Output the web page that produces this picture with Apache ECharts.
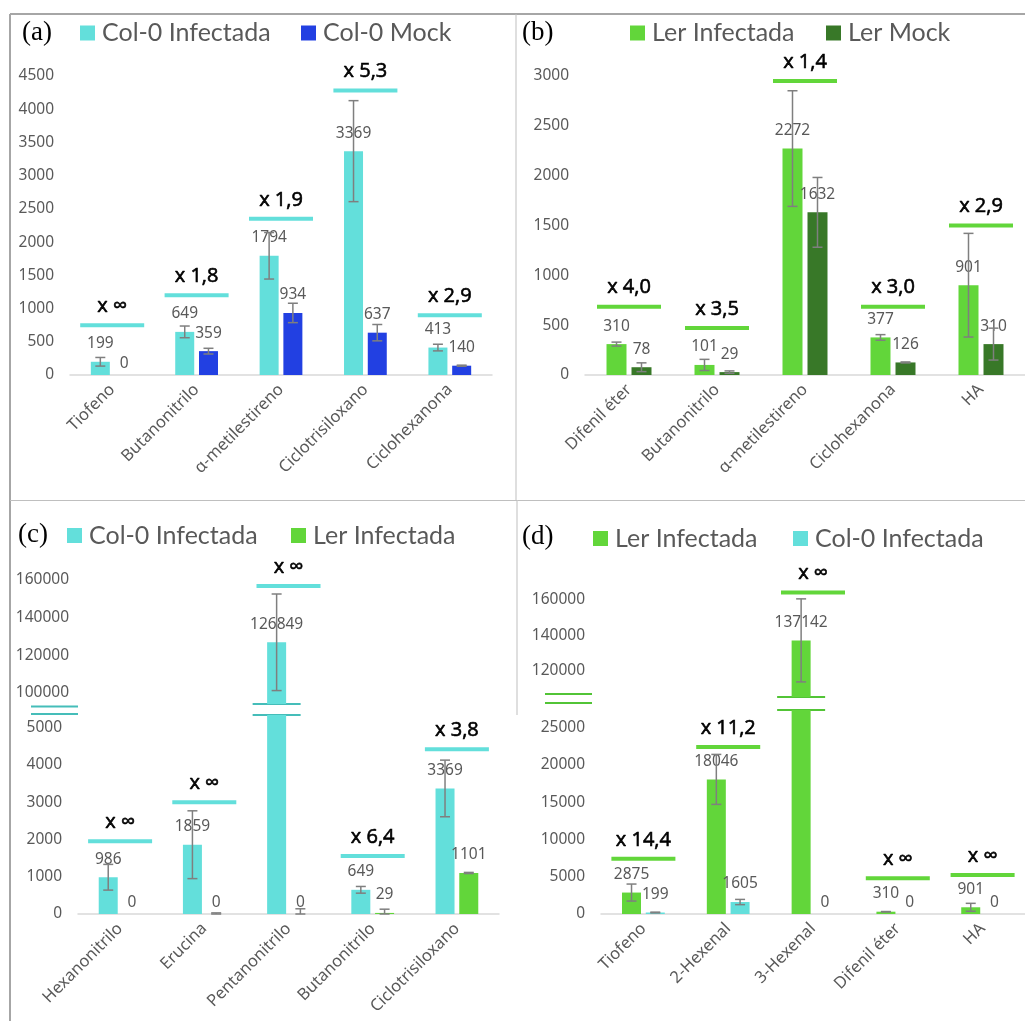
<!DOCTYPE html>
<html>
<head>
<meta charset="utf-8">
<title>VOCs Col-0 / Ler</title>
<script src="https://cdn.jsdelivr.net/npm/echarts@6.0.0/dist/echarts.min.js"></script>
<style>
  html, body { margin: 0; padding: 0; background: #fff; }
  #main { width: 1025px; height: 1021px; }
</style>
</head>
<body>
<div id="main"></div>
<script>
// (a) Col-0 infectada vs mock
const catA = ['Tiofeno', 'Butanonitrilo', 'α-metilestireno', 'Ciclotrisiloxano', 'Ciclohexanona']
const colInfA = [199, 649, 1794, 3369, 413]
const colInfAErr = [65, 88, 350, 760, 50]
const colMockA = [0, 359, 934, 637, 140]
const colMockAErr = [0, 43, 146, 123, 8]
const foldA = ['x ∞', 'x 1,8', 'x 1,9', 'x 5,3', 'x 2,9']
const foldAY = [750, 1200, 2350, 4280, 900]

// (b) Ler infectada vs mock
const catB = ['Difenil éter', 'Butanonitrilo', 'α-metilestireno', 'Ciclohexanona', 'HA']
const lerInfB = [310, 101, 2272, 377, 901]
const lerInfBErr = [20, 56, 580, 28, 520]
const lerMockB = [78, 29, 1632, 126, 310]
const lerMockBErr = [44, 12, 350, 5, 160]
const foldB = ['x 4,0', 'x 3,5', 'x 1,4', 'x 3,0', 'x 2,9']
const foldBY = [685, 472, 2950, 685, 1500]

// (c) Col-0 infectada vs Ler infectada
const catC = ['Hexanonitrilo', 'Erucina', 'Pentanonitrilo', 'Butanonitrilo', 'Ciclotrisiloxano']
const colInfC = [986, 1859, 126849, 649, 3369]
const colInfCErr = [345, 910, 25700, 90, 760]
const lerInfC = [0, 0, 0, 29, 1101]
const lerInfCErr = [0, 30, 140, 100, 15]
const foldC = ['x ∞', 'x ∞', 'x ∞', 'x 6,4', 'x 3,8']
const foldCY = [1950, 3000, 156800, 1555, 4420]
const ticksCUp = [100000, 120000, 140000, 160000]
const ticksCLow = [0, 1000, 2000, 3000, 4000, 5000]

// (d) Ler infectada vs Col-0 infectada
const catD = ['Tiofeno', '2-Hexenal', '3-Hexenal', 'Difenil éter', 'HA']
const lerInfD = [2875, 18046, 137142, 310, 901]
const lerInfDErr = [1140, 3350, 23500, 20, 530]
const colInfD = [199, 1605, 0, 0, 0]
const colInfDErr = [50, 350, 0, 0, 0]
const foldD = ['x 14,4', 'x 11,2', 'x ∞', 'x ∞', 'x ∞']
const foldDY = [7400, 22400, 164300, 4800, 5230]
const ticksDUp = [120000, 140000, 160000]
const ticksDLow = [0, 5000, 10000, 15000, 20000, 25000]

const TXT = '#595959'
const ERR = '#7f7f7f'
const BORDER = '#a6a6a6'
const CYAN = '#63dfdb'
const BLUE = '#2240e2'
const GREEN = '#62d63a'
const DKGREEN = '#387828'
const FONT = '"Noto Sans", sans-serif'
const BW = 19

// grids: a, b, c-upper, c-lower, d-upper, d-lower
const grids = [
  { left: 70, top: 76, width: 422, height: 299 },
  { left: 585, top: 76, width: 440, height: 299 },
  { left: 78, top: 580, width: 421, height: 124 },
  { left: 78, top: 715, width: 421, height: 199 },
  { left: 601, top: 600, width: 424, height: 97 },
  { left: 601, top: 710, width: 424, height: 204 }
]
const ranges = [[0, 4500], [0, 3000], [94000, 160000], [0, 5340], [105100, 160000], [0, 27350]]
const cats = [catA, catB, catC, catC, catD, catD]

function lowOf (ai) { return ai === 2 || ai === 4 ? ranges[ai][0] : -Infinity }
function highOf (ai) { return ai === 3 || ai === 5 ? ranges[ai][1] : Infinity }

function barData (vals, lo, hi) {
  return vals.map(function (v) {
    if (v < lo) return '-'
    if (v > hi) return { value: v, label: { show: false } }
    return { value: v, label: { distance: v === 0 ? 3 : 10 } }
  })
}

function bars (name, ai, vals, color, bw) {
  return {
    name: name, type: 'bar', xAxisIndex: ai, yAxisIndex: ai,
    data: barData(vals, lowOf(ai), highOf(ai)),
    barWidth: bw, barGap: '25%', clip: true, silent: true,
    itemStyle: { color: color },
    label: { show: true, position: 'top', distance: 10, color: TXT, fontSize: 15.5, fontFamily: FONT }
  }
}

function errBars (ai, vals, errs, offset) {
  let lo = lowOf(ai)
  let hi = highOf(ai)
  return {
    type: 'custom', xAxisIndex: ai, yAxisIndex: ai, silent: true, z: 4,
    data: vals.map(function (v, i) { return [i, v, errs[i]] })
      .filter(function (d) { return d[2] > 0 && d[1] >= lo && d[1] <= hi }),
    renderItem: function (params, api) {
      let c = api.value(0)
      let v = api.value(1)
      let e = api.value(2)
      let top = api.coord([c, v + e])
      let bot = api.coord([c, Math.max(v - e, 0)])
      let x = top[0] + offset
      let st = { stroke: ERR, lineWidth: 1.5 }
      return {
        type: 'group',
        children: [
          { type: 'line', shape: { x1: x, y1: top[1], x2: x, y2: bot[1] }, style: st },
          { type: 'line', shape: { x1: x - 5, y1: top[1], x2: x + 5, y2: top[1] }, style: st },
          { type: 'line', shape: { x1: x - 5, y1: bot[1], x2: x + 5, y2: bot[1] }, style: st }
        ]
      }
    }
  }
}

function folds (ai, labels, ys, color) {
  let lo = lowOf(ai)
  let hi = highOf(ai)
  return {
    type: 'custom', xAxisIndex: ai, yAxisIndex: ai, silent: true, z: 6,
    data: ys.map(function (y, i) { return [i, y] })
      .filter(function (d) { return d[1] >= lo && d[1] <= hi }),
    renderItem: function (params, api) {
      let p = api.coord([api.value(0), api.value(1)])
      let w = 64
      return {
        type: 'group',
        children: [
          { type: 'rect', shape: { x: p[0] - w / 2, y: p[1] - 2, width: w, height: 4 }, style: { fill: color } },
          {
            type: 'text', x: p[0], y: p[1] - 19,
            style: {
              text: labels[api.value(0)], fill: '#000', stroke: '#000', lineWidth: 0.6,
              fontSize: 20, fontFamily: '"Open Sans"', align: 'center', verticalAlign: 'middle'
            }
          }
        ]
      }
    }
  }
}

function leg (name, left, top) {
  return {
    data: [name], left: left, top: top, padding: 0, itemWidth: 15, itemHeight: 15,
    icon: 'rect', selectedMode: false,
    textStyle: { color: TXT, fontSize: 25, fontFamily: 'Lato', padding: [0, 0, 0, 2] }
  }
}

const upper = [2, 4]
const xAxes = grids.map(function (g, i) {
  return {
    type: 'category', gridIndex: i, data: cats[i], show: upper.indexOf(i) < 0,
    axisLine: { show: true, lineStyle: { color: '#d9d9d9', width: 1.5 } },
    axisTick: { show: false },
    axisLabel: { rotate: 45, margin: 12, color: TXT, fontSize: 16.5, fontFamily: FONT, interval: 0 }
  }
})
const tickLists = [null, null, ticksCUp, ticksCLow, ticksDUp, ticksDLow]
const yAxes = grids.map(function (g, i) {
  let ax = {
    type: 'value', gridIndex: i, min: ranges[i][0], max: ranges[i][1],
    axisLine: { show: false }, axisTick: { show: false }, splitLine: { show: false },
    axisLabel: {
      color: TXT, fontSize: 15.5, fontFamily: FONT, margin: i === 2 ? 9 : 16,
      formatter: function (v) { return String(v) }
    }
  }
  if (tickLists[i]) ax.axisLabel.customValues = tickLists[i]
  else ax.interval = 500
  return ax
})

const off = (BW + BW * 0.25) / 2
const offB = (20 + 20 * 0.25) / 2

const option = {
  animation: false,
  backgroundColor: '#fff',
  grid: grids.map(function (g) { return Object.assign({ outerBoundsMode: 'none', containLabel: false }, g) }),
  xAxis: xAxes,
  yAxis: yAxes,
  legend: [
    leg('Col-0 Infectada', 80, 20.5), leg('Col-0 Mock', 301, 20.5),
    leg('Ler Infectada', 630, 20.5), leg('Ler Mock', 826, 20.5),
    leg('Col-0 Infectada', 67, 523), leg('Ler Infectada', 291, 523),
    leg('Ler Infectada', 593, 526), leg('Col-0 Infectada', 793, 526)
  ],
  series: [
    bars('Col-0 Infectada', 0, colInfA, CYAN, BW),
    bars('Col-0 Mock', 0, colMockA, BLUE, BW),
    errBars(0, colInfA, colInfAErr, -off),
    errBars(0, colMockA, colMockAErr, off),
    folds(0, foldA, foldAY, CYAN),

    bars('Ler Infectada', 1, lerInfB, GREEN, 20),
    bars('Ler Mock', 1, lerMockB, DKGREEN, 20),
    errBars(1, lerInfB, lerInfBErr, -offB),
    errBars(1, lerMockB, lerMockBErr, offB),
    folds(1, foldB, foldBY, GREEN),

    bars('Col-0 Infectada', 2, colInfC, CYAN, BW),
    bars('Ler Infectada', 2, lerInfC, GREEN, BW),
    errBars(2, colInfC, colInfCErr, -off),
    errBars(2, lerInfC, lerInfCErr, off),
    folds(2, foldC, foldCY, CYAN),
    bars('Col-0 Infectada', 3, colInfC, CYAN, BW),
    bars('Ler Infectada', 3, lerInfC, GREEN, BW),
    errBars(3, colInfC, colInfCErr, -off),
    errBars(3, lerInfC, lerInfCErr, off),
    folds(3, foldC, foldCY, CYAN),

    bars('Ler Infectada', 4, lerInfD, GREEN, BW),
    bars('Col-0 Infectada', 4, colInfD, CYAN, BW),
    errBars(4, lerInfD, lerInfDErr, -off),
    errBars(4, colInfD, colInfDErr, off),
    folds(4, foldD, foldDY, GREEN),
    bars('Ler Infectada', 5, lerInfD, GREEN, BW),
    bars('Col-0 Infectada', 5, colInfD, CYAN, BW),
    errBars(5, lerInfD, lerInfDErr, -off),
    errBars(5, colInfD, colInfDErr, off),
    folds(5, foldD, foldDY, GREEN)
  ]
}

const chart = echarts.init(document.getElementById('main'), null, { renderer: 'canvas' })
chart.setOption(option)

// frame, panel letters and axis-break marks
function hline (x1, x2, y, color, w) {
  return { type: 'line', silent: true, shape: { x1: x1, y1: y, x2: x2, y2: y }, style: { stroke: color, lineWidth: w } }
}
function vline (x, y1, y2, color, w) {
  return { type: 'line', silent: true, shape: { x1: x, y1: y1, x2: x, y2: y2 }, style: { stroke: color, lineWidth: w } }
}
function letter (t, x, y) {
  return { type: 'text', silent: true, x: x, y: y, style: { text: t, fill: '#000', fontSize: 27, fontFamily: '"Liberation Serif", serif', verticalAlign: 'middle' } }
}
const cBar = chart.convertToPixel({ xAxisIndex: 2 }, 'Pentanonitrilo') - off
const dBar = chart.convertToPixel({ xAxisIndex: 4 }, '3-Hexenal') - off
const BRK_C = '#45bdb9'
const BRK_D = '#52c436'
const cUpBottom = grids[2].top + grids[2].height
const dUpBottom = grids[4].top + grids[4].height
chart.setOption({
  graphic: [
    hline(10, 1025, 14, BORDER, 2),
    vline(10, 14, 1021, BORDER, 2),
    vline(516, 14, 500, '#bfbfbf', 1),
    hline(10, 1025, 500.5, '#bfbfbf', 1),
    vline(517, 500, 715, '#bfbfbf', 1),
    letter('(a)', 22, 33),
    letter('(b)', 522, 33),
    letter('(c)', 18, 535),
    letter('(d)', 522, 537),
    hline(cBar - 24, cBar + 24, cUpBottom, BRK_C, 2),
    hline(cBar - 24, cBar + 24, grids[3].top, BRK_C, 2),
    hline(31, 78, cUpBottom + 2.5, BRK_C, 2),
    hline(31, 78, grids[3].top - 1, BRK_C, 2),
    hline(dBar - 24, dBar + 24, dUpBottom, BRK_D, 2),
    hline(dBar - 24, dBar + 24, grids[5].top, BRK_D, 2),
    hline(545, 592, dUpBottom - 3, BRK_D, 2),
    hline(545, 592, grids[5].top - 7, BRK_D, 2)
  ]
})
</script>
</body>
</html>
